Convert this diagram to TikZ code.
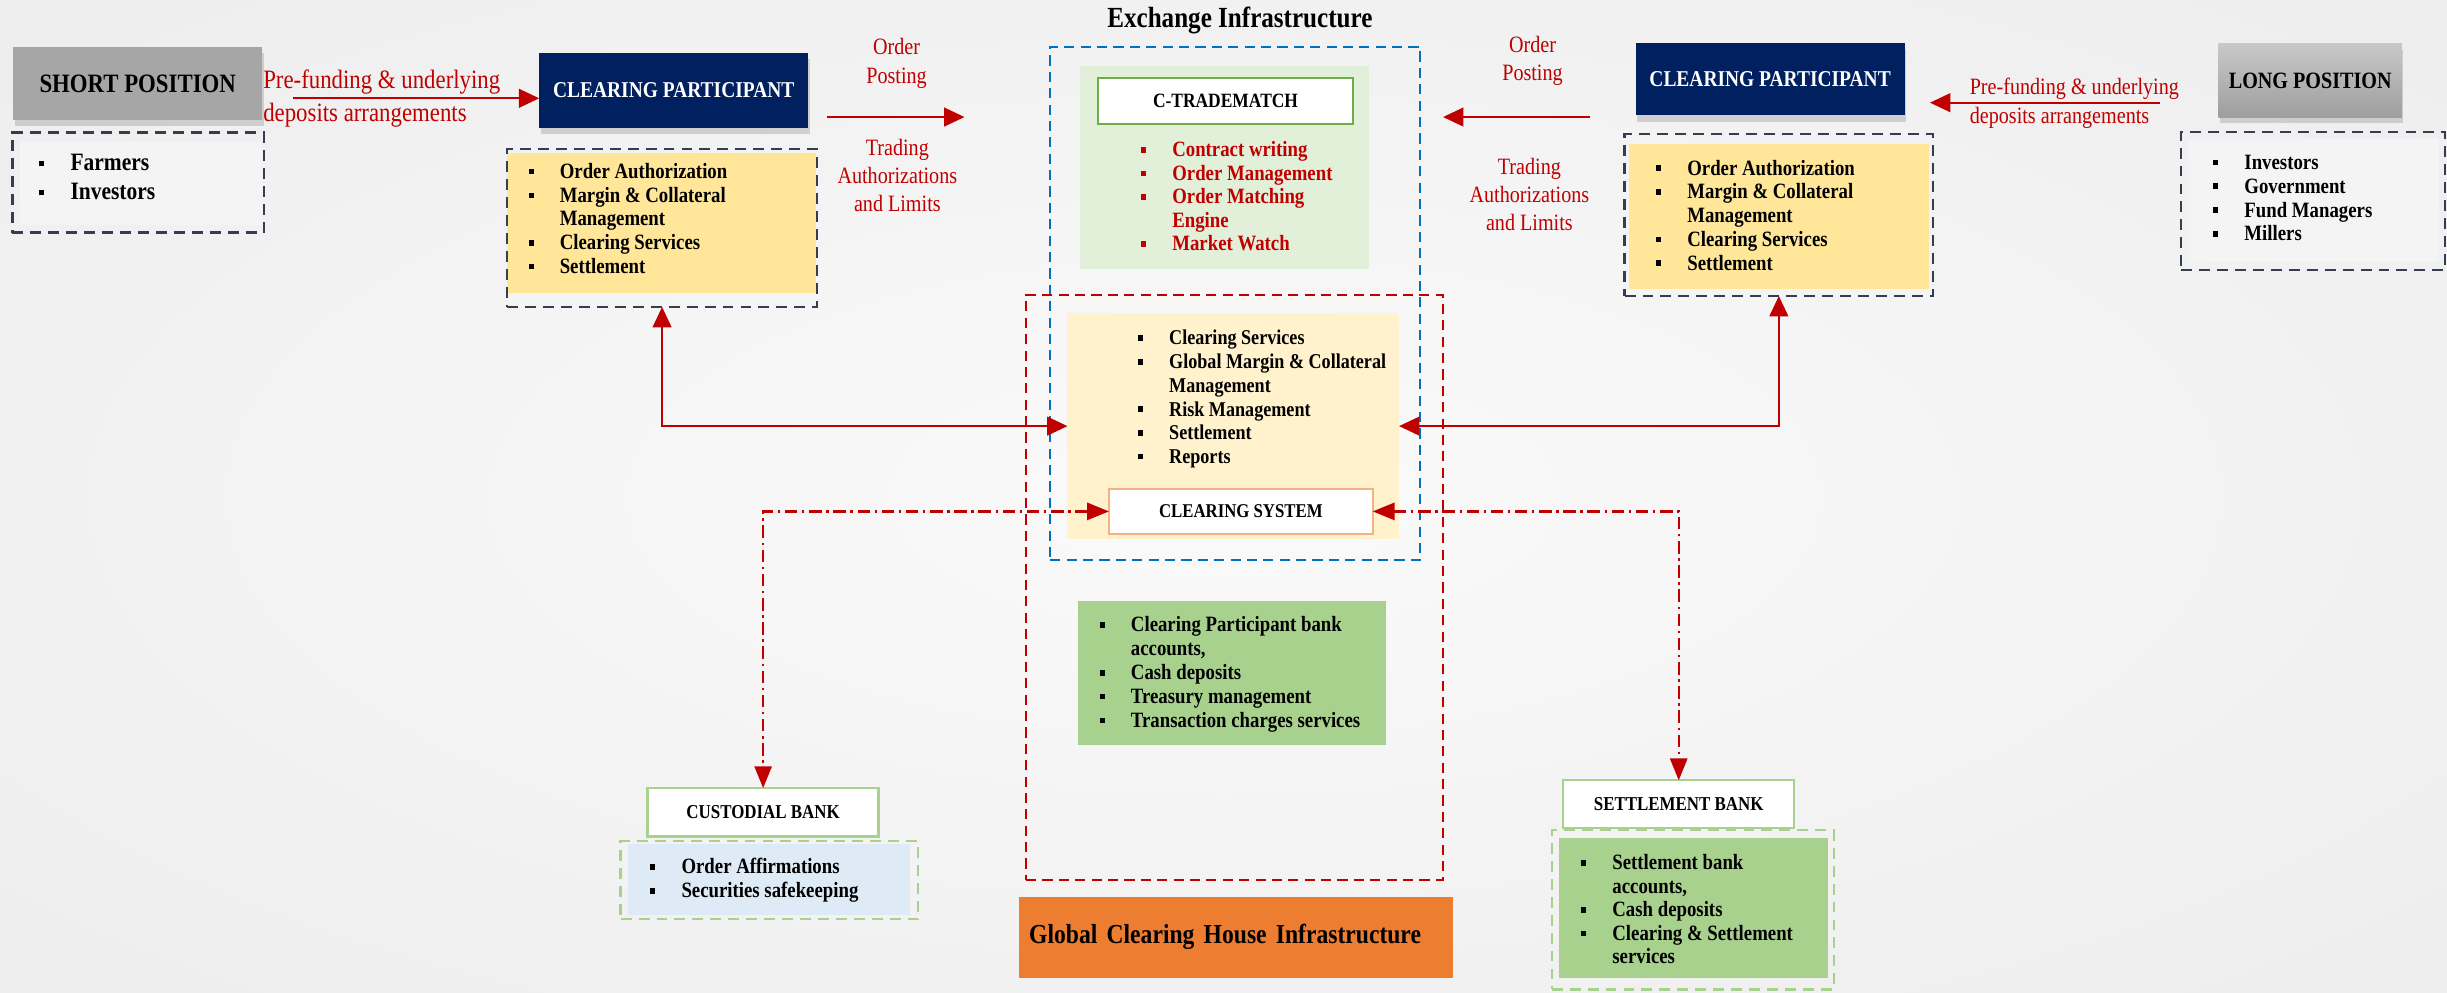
\documentclass[tikz,border=0pt]{standalone}
\usepackage{fontspec}
\setmainfont{Liberation Serif}[FakeStretch=0.86]
\usetikzlibrary{arrows.meta,shadows}
\definecolor{navy}{HTML}{002060}
\definecolor{slate}{HTML}{333F50}
\definecolor{yel}{HTML}{FFE699}
\definecolor{lgreen}{HTML}{E2F0D9}
\definecolor{mgreen}{HTML}{A9D18E}
\definecolor{gborder}{HTML}{70AD47}
\definecolor{cream}{HTML}{FFF2CC}
\definecolor{lblue}{HTML}{DEEBF7}
\definecolor{orng}{HTML}{ED7D31}
\definecolor{dred}{HTML}{C00000}
\definecolor{eblue}{HTML}{0070C0}
\definecolor{oborder}{HTML}{F4B183}
\definecolor{sgrey}{HTML}{A6A6A6}
\definecolor{lgtop}{HTML}{C8C8C8}
\definecolor{lgbot}{HTML}{9E9E9E}
\definecolor{pale}{HTML}{F4F4F4}
\definecolor{bgin}{HTML}{FAFAFA}
\definecolor{bgmid}{HTML}{EFEFEF}
\definecolor{bgout}{HTML}{E3E3E3}
\pgfdeclareradialshading{bgsh}{\pgfpoint{0bp}{0bp}}{color(0bp)=(bgin); color(30bp)=(bgmid); color(71bp)=(bgout)}
\newcommand\fsz[2]{\fontsize{#1}{#2}\selectfont}
\newcommand\bul{\makebox[20pt][l]{\rule[2.6pt]{3.2pt}{3.6pt}}}
\newcommand\hind{\hspace*{20pt}}
\begin{document}
\begin{tikzpicture}[x=1pt,y=-1pt,
  box/.style={rectangle, inner sep=0pt, outer sep=0pt},
  dashbox/.style={box, draw=slate, line width=1.5pt, dash pattern=on 7pt off 4.5pt},
  shd/.style={drop shadow={opacity=0.3, shadow xshift=1pt, shadow yshift=-4pt}},
  ttl/.style={box, shd, fill=navy, text=white, font=\bfseries\fsz{14.5}{16}},
  lst/.style={anchor=north west, inner sep=0pt, align=left},
  lbl/.style={inner sep=0pt, text=dred},
  bankhdr/.style={box, draw=mgreen, line width=1.5pt, fill=white, font=\bfseries\fsz{12.6}{14}},
  redarr/.style={draw=dred, line width=1.2pt, -{Triangle[length=13pt,width=12pt]}},
  redbi/.style={draw=dred, line width=1.2pt, {Triangle[length=13pt,width=12pt]}-{Triangle[length=13pt,width=12pt]}},
  ddarr/.style={draw=dred, line width=1.5pt, dash pattern=on 8pt off 3pt on 1.5pt off 3pt, {Triangle[length=14pt,width=11pt]}-{Triangle[length=14pt,width=11pt]}}
]
\shade[shading=bgsh] (0,0) rectangle (1568,636);
\useasboundingbox (0,0) rectangle (1568,636);

% ---------- short position ----------
\node[box, shd, fill=sgrey, minimum width=159.5pt, minimum height=47pt, font=\bfseries\fsz{17}{19}] (spos) at (88.25,53.5) {SHORT POSITION};
\node[box, fill=pale, minimum width=155pt, minimum height=53pt] (sfill) at (90.5,117.5) {};
\node[dashbox, minimum width=161pt, minimum height=64pt] (sdash) at (88.5,117) {};
\node[lst, font=\bfseries\fsz{16}{18.6}] (slist) at (25,98.4) {\bul Farmers\\\bul Investors};

% ---------- left clearing participant ----------
\node[ttl, minimum width=172.5pt, minimum height=48pt] (cpL) at (431.75,58) {CLEARING PARTICIPANT};
\node[box, fill=yel, minimum width=198pt, minimum height=90pt] (ylL) at (424,143) {};
\node[dashbox, minimum width=198.5pt, minimum height=101.2pt] (ydL) at (424.25,146.1) {};
\node[lst, font=\bfseries\fsz{14}{15.2}] (cpLlist) at (338.5,104.5) {\bul Order Authorization\\\bul Margin \& Collateral\\\hind Management\\\bul Clearing Services\\\bul Settlement};

% ---------- right clearing participant ----------
\node[ttl, minimum width=172.5pt, minimum height=46.5pt] (cpR) at (1134.25,50.75) {CLEARING PARTICIPANT};
\node[box, fill=yel, minimum width=192pt, minimum height=93pt] (ylR) at (1140,138.5) {};
\node[dashbox, minimum width=197.7pt, minimum height=103.7pt] (ydR) at (1139.85,137.85) {};
\node[lst, font=\bfseries\fsz{14}{15.2}] (cpRlist) at (1061,102.3) {\bul Order Authorization\\\bul Margin \& Collateral\\\hind Management\\\bul Clearing Services\\\bul Settlement};

% ---------- long position ----------
\node[box, shd, top color=lgtop, bottom color=lgbot, minimum width=117.3pt, minimum height=47pt, font=\bfseries\fsz{15}{17}] (lpos) at (1480.35,51.5) {LONG POSITION};
\node[box, fill=pale, minimum width=161pt, minimum height=79pt] (lfill) at (1482.5,128.5) {};
\node[dashbox, minimum width=169.1pt, minimum height=88.6pt] (ldash) at (1482.15,128.7) {};
\node[lst, font=\bfseries\fsz{14}{15.3}] (llist) at (1418,99.1) {\bul Investors\\\bul Government\\\bul Fund Managers\\\bul Millers};

% ---------- exchange infrastructure ----------
\node[font=\bfseries\fsz{18.7}{21}, inner sep=0pt] (exch) at (794.5,13) {Exchange Infrastructure};
\node[box, draw=eblue, line width=1.5pt, dash pattern=on 6.5pt off 4pt, minimum width=237pt, minimum height=329pt] (xbox) at (791.5,194.5) {};
\node[box, draw=dred, line width=1.5pt, dash pattern=on 6.5pt off 4pt, minimum width=267.2pt, minimum height=375pt] (gbox) at (791.1,376.5) {};
\node[box, fill=lgreen, minimum width=185pt, minimum height=130.3pt] (ctgreen) at (784.5,107.45) {};
\node[box, draw=gborder, line width=1.5pt, fill=white, minimum width=163.4pt, minimum height=29.5pt, font=\bfseries\fsz{13}{15}] (ctm) at (785.3,64.75) {C-TRADEMATCH};
\node[lst, text=dred, font=\bfseries\fsz{14}{15.1}] (ctlist) at (731,90.5) {\bul Contract writing\\\bul Order Management\\\bul Order Matching\\\hind Engine\\\bul Market Watch};

% ---------- clearing system ----------
\node[box, fill=cream, minimum width=212.5pt, minimum height=144.9pt] (creamBox) at (790.25,273.05) {};
\node[lst, font=\bfseries\fsz{13.5}{15.2}] (cllist) at (729,211.4) {\bul Clearing Services\\\bul Global Margin \& Collateral\\\hind Management\\\bul Risk Management\\\bul Settlement\\\bul Reports};
\node[box, draw=oborder, line width=1.5pt, fill=white, minimum width=169pt, minimum height=28.6pt, font=\bfseries\fsz{12.5}{14}] (clsys) at (795.1,327.7) {CLEARING SYSTEM};

\node[box, fill=mgreen, minimum width=197.4pt, minimum height=92.4pt] (cpbank) at (789.3,431.2) {};
\node[lst, font=\bfseries\fsz{14}{15.3}] (banklist) at (704.5,395) {\bul Clearing Participant bank\\\hind accounts,\\\bul Cash deposits\\\bul Treasury management\\\bul Transaction charges services};

\node[box, fill=orng, minimum height=51.9pt, text width=265pt, inner xsep=6.5pt, align=left, font=\bfseries\fsz{17.6}{21}] (gch) at (792,600.55) {Global Clearing House Infrastructure};

% ---------- custodial bank ----------
\node[bankhdr, minimum width=148pt, minimum height=31pt] (cust) at (489,520.5) {CUSTODIAL BANK};
\node[box, fill=lblue, minimum width=180.7pt, minimum height=45pt] (custfill) at (493.05,563.5) {};
\node[box, draw=mgreen, line width=1.5pt, dash pattern=on 7pt off 4.5pt, minimum width=190.7pt, minimum height=50pt] (custdash) at (493.05,564) {};
\node[lst, font=\bfseries\fsz{14}{15.4}] (custlist) at (416.5,549.8) {\bul Order Affirmations\\\bul Securities safekeeping};

% ---------- settlement bank ----------
\node[bankhdr, minimum width=148pt, minimum height=30.7pt] (setb) at (1075.7,515.35) {SETTLEMENT BANK};
\node[box, fill=mgreen, minimum width=172.5pt, minimum height=90pt] (setfill) at (1085.25,582) {};
\node[box, draw=mgreen, line width=1.5pt, dash pattern=on 7pt off 4.5pt, minimum width=180.7pt, minimum height=102pt] (setdash) at (1084.65,583) {};
\node[lst, font=\bfseries\fsz{14}{15.1}] (setlist) at (1013,547.3) {\bul Settlement bank\\\hind accounts,\\\bul Cash deposits\\\bul Clearing \& Settlement\\\hind services};

% ---------- labels ----------
\node[lbl, lst, font=\fsz{17}{21}] (pfL) at (168.5,44.4) {Pre-funding \& underlying\\deposits arrangements};
\node[lbl, lst, font=\fsz{15}{18.8}] (pfR) at (1262,49.6) {Pre-funding \& underlying\\deposits arrangements};
\node[lbl, anchor=north, align=center, font=\fsz{15}{18.6}] (opL) at (574.5,24.1) {Order\\Posting};
\node[lbl, anchor=north, align=center, font=\fsz{15}{18}] (taL) at (575,89.1) {Trading\\Authorizations\\and Limits};
\node[lbl, anchor=north, align=center, font=\fsz{15}{18}] (opR) at (982,22.9) {Order\\Posting};
\node[lbl, anchor=north, align=center, font=\fsz{15}{18}] (taR) at (980,101.1) {Trading\\Authorizations\\and Limits};

% ---------- connectors ----------
\coordinate (a1s) at (188,63);
\draw[redarr] (a1s) -- (a1s -| cpL.west);
\coordinate (a2s) at (530,75);
\coordinate (a2e) at (618,75);
\draw[redarr] (a2s) -- (a2e);
\coordinate (a3s) at (1019,75);
\coordinate (a3e) at (924.7,75);
\draw[redarr] (a3s) -- (a3e);
\coordinate (a4s) at (1384,65.8);
\coordinate (a4e) at (1236.7,65.8);
\draw[redarr] (a4s) -- (a4e);
\draw[redbi] (ydL.south) |- (creamBox.west);
\draw[redbi] (ydR.south) |- (creamBox.east);
\draw[ddarr] (clsys.west) -| (cust.north);
\draw[ddarr] (clsys.east) -| (setb.north);
\end{tikzpicture}
\end{document}
